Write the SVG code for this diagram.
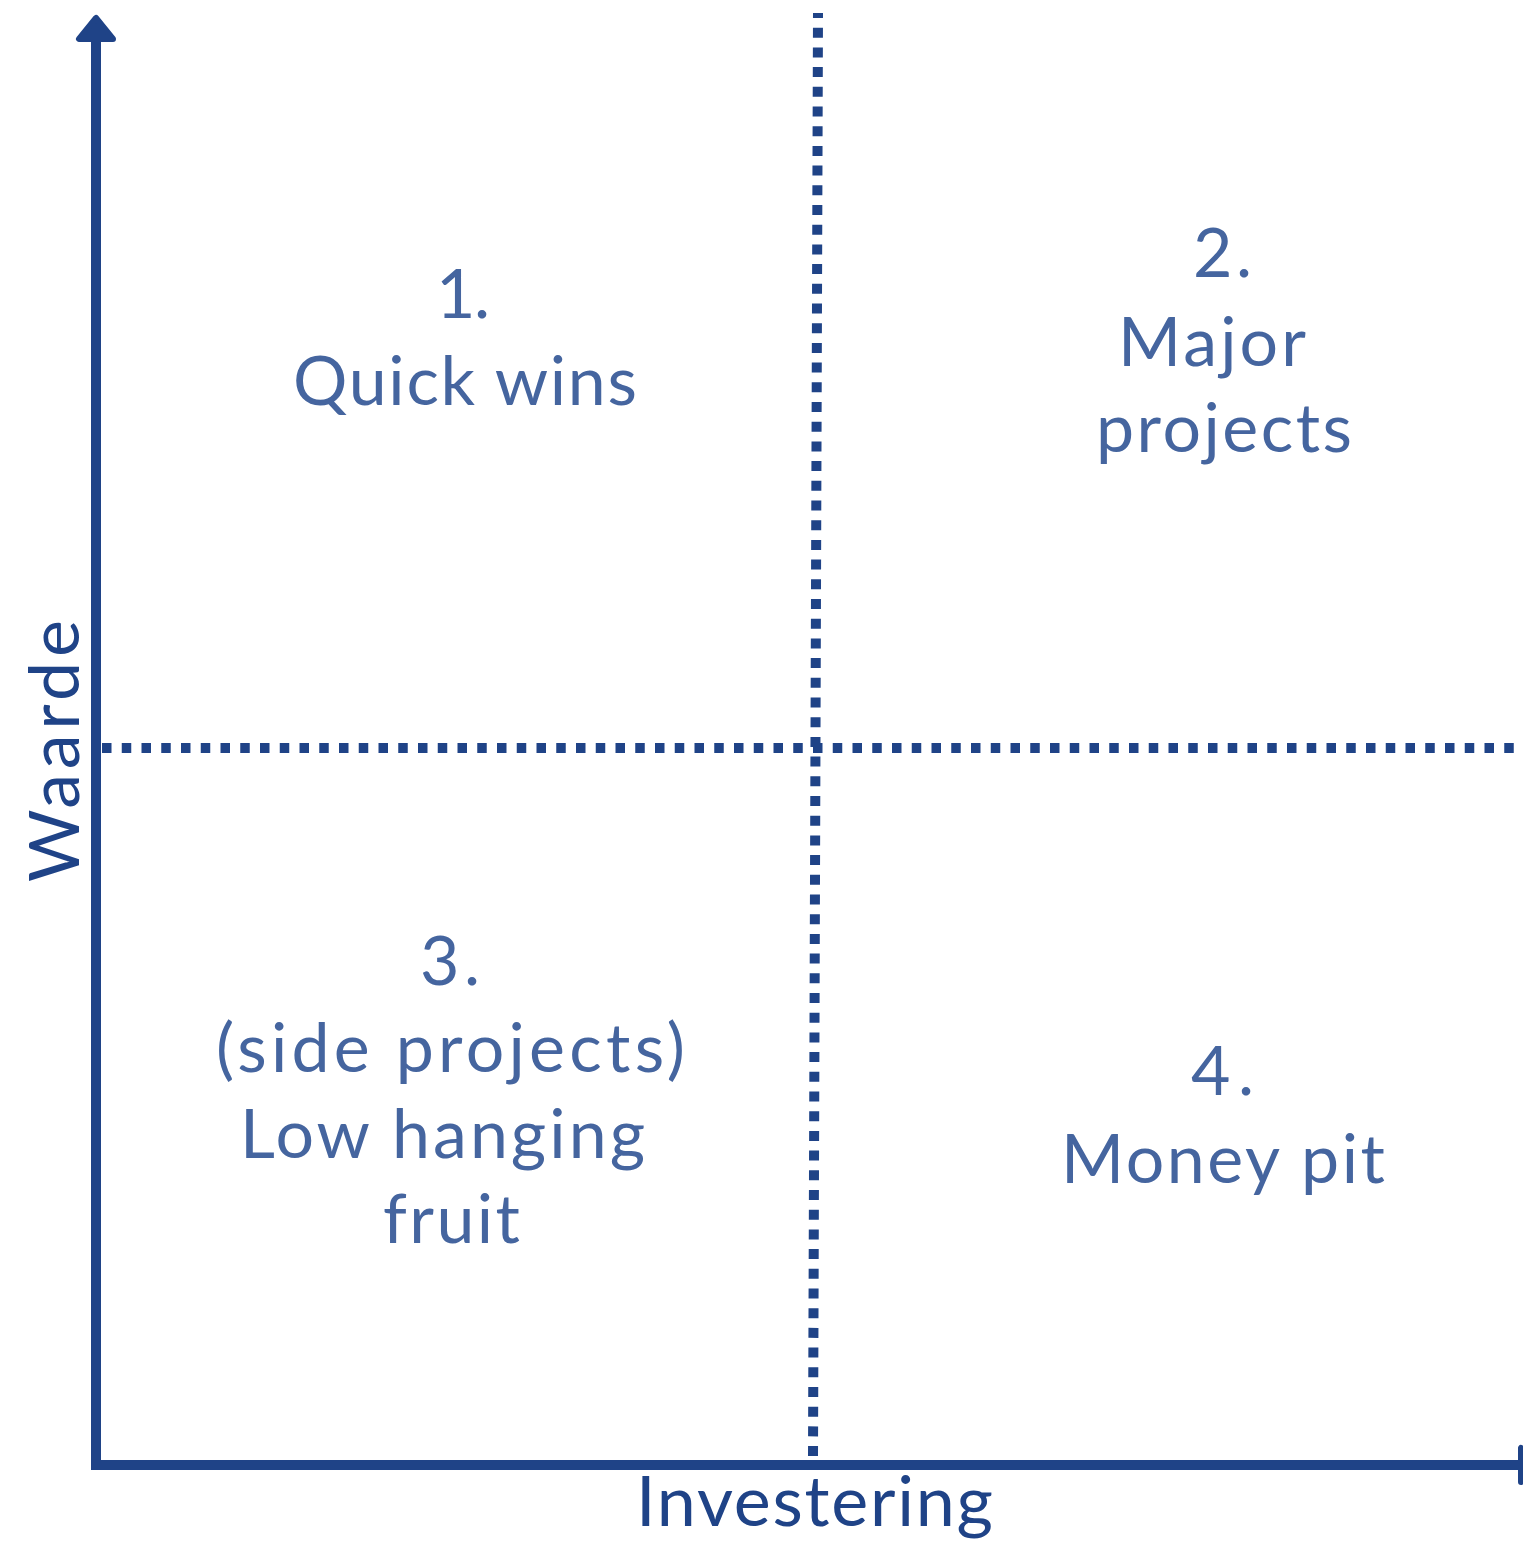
<svg xmlns="http://www.w3.org/2000/svg" width="1523" height="1543" viewBox="0 0 1523 1543">
<style>
.lbl{font-family:Lato,"Noto Sans",sans-serif;font-size:68px;fill:#45659f}
.ax{font-family:Lato,"Noto Sans",sans-serif;font-size:70px;fill:#1f4387}
.axis{stroke:#1f4387;stroke-width:10;fill:none}
.head{fill:#1f4387;stroke:#1f4387;stroke-width:6;stroke-linejoin:round}
.dot{stroke:#1f4387;stroke-width:10;fill:none}
</style>
<rect width="1523" height="1543" fill="#ffffff"/>
<g id="connectors">
<line class="dot" x1="818" y1="13" x2="813" y2="1458" stroke-dasharray="10 9.7" stroke-dashoffset="5"/>
<line class="dot" x1="102" y1="748" x2="1523" y2="748" stroke-dasharray="9.5 10.25"/>
<line class="axis" x1="96" y1="36" x2="96" y2="1470"/>
<line class="axis" x1="91" y1="1465" x2="1522" y2="1465"/>
<polygon class="head" points="96,18 79,39 113,39"/>
<polygon class="head" points="1521,1448 1521,1482 1545,1465"/>
</g>
<g id="q1">
<text class="lbl" x="436" y="318" textLength="54" lengthAdjust="spacing">1.</text>
<text class="lbl" x="293" y="405" textLength="344" lengthAdjust="spacing">Quick wins</text>
</g>
<g id="q2">
<text class="lbl" x="1193" y="277" textLength="59" lengthAdjust="spacing">2.</text>
<text class="lbl" x="1118" y="366" textLength="188" lengthAdjust="spacing">Major</text>
<text class="lbl" x="1096" y="452" textLength="256" lengthAdjust="spacing">projects</text>
</g>
<g id="q3">
<text class="lbl" x="420" y="985" textLength="60" lengthAdjust="spacing">3.</text>
<text class="lbl" x="216" y="1072" textLength="469" lengthAdjust="spacing">(side projects)</text>
<text class="lbl" x="240" y="1158" textLength="405" lengthAdjust="spacing">Low hanging</text>
<text class="lbl" x="383" y="1243" textLength="137" lengthAdjust="spacing">fruit</text>
</g>
<g id="q4">
<text class="lbl" x="1191" y="1095" textLength="63" lengthAdjust="spacing">4.</text>
<text class="lbl" x="1061" y="1183" textLength="324" lengthAdjust="spacing">Money pit</text>
</g>
<g id="xlabel">
<text class="ax" x="636" y="1526" textLength="357" lengthAdjust="spacing">Investering</text>
</g>
<g id="ylabel">
<text class="ax" transform="translate(79 880) rotate(-90)" x="-2" y="0" textLength="262" lengthAdjust="spacing">Waarde</text>
</g>
</svg>
